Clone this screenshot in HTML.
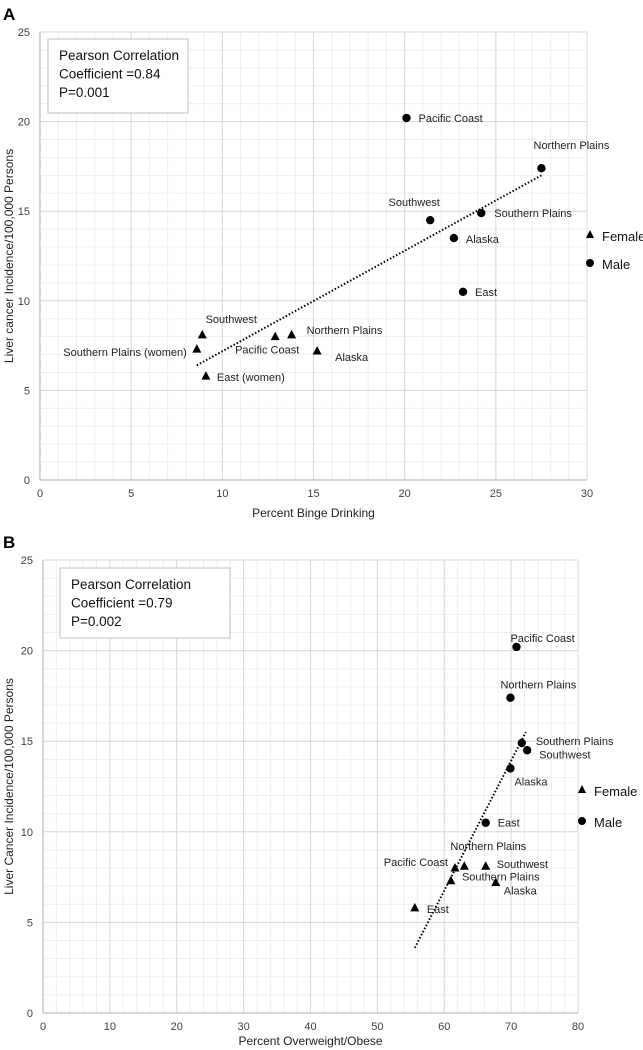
<!DOCTYPE html>
<html><head><meta charset="utf-8">
<style>
html,body{margin:0;padding:0;background:#fff;}
svg{display:block;font-family:"Liberation Sans",sans-serif;}
</style></head>
<body>
<svg id="fig" width="643" height="1050" viewBox="0 0 643 1050" xmlns="http://www.w3.org/2000/svg"></svg>
<script>
// ---------- Panel A data ----------
const aMaleNames = ["Pacific Coast","Northern Plains","Southwest","Southern Plains","Alaska","East"];
const aMaleX = [20.1, 27.5, 21.4, 24.2, 22.7, 23.2];
const aMaleY = [20.2, 17.4, 14.5, 14.9, 13.5, 10.5];
const aFemNames = ["Southwest","Southern Plains (women)","East (women)","Pacific Coast","Northern Plains","Alaska"];
const aFemX = [8.9, 8.6, 9.1, 12.9, 13.8, 15.2];
const aFemY = [8.1, 7.3, 5.8, 8.0, 8.1, 7.2];
const aTrendX = [8.6, 27.5];
const aTrendY = [6.4, 17.0];
const aXTicks = [0,5,10,15,20,25,30];
const aYTicks = [0,5,10,15,20,25];

// ---------- Panel B data ----------
const bMaleNames = ["Pacific Coast","Northern Plains","Southern Plains","Southwest","Alaska","East"];
const bMaleX = [70.8, 69.9, 71.6, 72.4, 69.9, 66.2];
const bMaleY = [20.2, 17.4, 14.9, 14.5, 13.5, 10.5];
const bFemNames = ["Pacific Coast","Northern Plains","Southwest","Southern Plains","Alaska","East"];
const bFemX = [61.6, 63.0, 66.2, 61.0, 67.7, 55.6];
const bFemY = [8.0, 8.1, 8.1, 7.3, 7.2, 5.8];
const bTrendX = [55.6, 72.2];
const bTrendY = [3.6, 15.5];
const bXTicks = [0,10,20,30,40,50,60,70,80];
const bYTicks = [0,5,10,15,20,25];

// label placement (pixel offsets, anchor) – presentation only
const aMaleLab = [[12,4,"start"],[30,-19,"middle"],[-16,-14,"middle"],[13,4,"start"],[12,5,"start"],[12,4,"start"]];
const aFemLab  = [[29,-12,"middle"],[-10,7,"end"],[11,5,"start"],[-8,17,"middle"],[15,-1,"start"],[18,10,"start"]];
const bMaleLab = [[-6,-5,"start"],[-10,-9,"start"],[14,2,"start"],[12,8,"start"],[4,17,"start"],[12,4,"start"]];
const bFemLab  = [[-7,-2,"end"],[24,-16,"middle"],[11,2,"start"],[11,0,"start"],[8,12,"start"],[12,5,"start"]];

const NS = "http://www.w3.org/2000/svg";
const svg = document.getElementById("fig");
function mk(tag, attrs, parent){
  const e = document.createElementNS(NS, tag);
  for (const k in attrs) e.setAttribute(k, attrs[k]);
  (parent||svg).appendChild(e);
  return e;
}

function panel(cfg){
  const g = mk("g", {});
  
  
  const sx = v => cfg.x0 + (v - cfg.xmin) / (cfg.xmax - cfg.xmin) * (cfg.x1 - cfg.x0);
  const sy = v => cfg.y0 - (v - cfg.ymin) / (cfg.ymax - cfg.ymin) * (cfg.y0 - cfg.y1);
  for (let v = cfg.xmin; v <= cfg.xmax + 1e-9; v += cfg.xminor) {
    const l = mk("line", {x1:sx(v), x2:sx(v), y1:cfg.y1, y2:cfg.y0, stroke:"#efefef", "stroke-width":1}, g);
    
    
  }
  for (let v = cfg.ymin; v <= cfg.ymax + 1e-9; v += 1) {
    const l = mk("line", {x1:cfg.x0, x2:cfg.x1, y1:sy(v), y2:sy(v), stroke:"#efefef", "stroke-width":1}, g);
    
    
  }
  cfg.xt.forEach(v => {
    const l = mk("line", {x1:sx(v), x2:sx(v), y1:cfg.y1, y2:cfg.y0, stroke:"#d9d9d9", "stroke-width":1}, g);
    
    
    const t = mk("text", {x:sx(v), y:cfg.y0 + 17, "font-size":11, fill:"#404040", "text-anchor":"middle"}, g);
    
    
    t.textContent = v;
  });
  cfg.yt.forEach(v => {
    const l = mk("line", {x1:cfg.x0, x2:cfg.x1, y1:sy(v), y2:sy(v), stroke:"#d9d9d9", "stroke-width":1}, g);
    
    
    const t = mk("text", {x:cfg.x0 - 10, y:sy(v) + 4, "font-size":11, fill:"#404040", "text-anchor":"end"}, g);
    
    
    t.textContent = v;
  });
  const ax = mk("line", {x1:cfg.x0, x2:cfg.x1, y1:cfg.y0, y2:cfg.y0, stroke:"#bfbfbf", "stroke-width":1.2}, g);
  
  
  const ay = mk("line", {x1:cfg.x0, x2:cfg.x0, y1:cfg.y1, y2:cfg.y0, stroke:"#bfbfbf", "stroke-width":1.2}, g);
  
  
  const xtT = mk("text", {x:(cfg.x0+cfg.x1)/2, y:cfg.y0 + cfg.xtOff, "font-size":12, fill:"#222", "text-anchor":"middle"}, g);
  
  
  xtT.textContent = cfg.xtitle;
  const ytT = mk("text", {x:0, y:0, "font-size":12, fill:"#222", "text-anchor":"middle", transform:`translate(13 ${(cfg.y0+cfg.y1)/2}) rotate(-90)`}, g);
  
  
  ytT.textContent = cfg.ytitle;
  const pl = mk("text", {x:3, y:cfg.y1 - 12, "font-size":17, "font-weight":"bold", fill:"#000"}, g);
  
  
  pl.textContent = cfg.letter;
  const bx = mk("rect", {x:cfg.box[0], y:cfg.box[1], width:cfg.box[2], height:cfg.box[3], fill:"#fff", stroke:"#bfbfbf", "stroke-width":1}, g);
  
  
  cfg.boxText.forEach((s, i) => {
    const t = mk("text", {x:cfg.box[0] + 11, y:cfg.box[1] + 21 + i*18.5, "font-size":13.5, fill:"#111"}, g);
    
    
    t.textContent = s;
  });
  const tr = mk("line", {x1:sx(cfg.tx[0]), y1:sy(cfg.ty[0]), x2:sx(cfg.tx[1]), y2:sy(cfg.ty[1]), stroke:"#000", "stroke-width":2, "stroke-dasharray":"1.5 2"}, g);
  
  
  cfg.mx.forEach((v, i) => {
    const px = sx(v), py = sy(cfg.my[i]);
    const c = mk("circle", {cx:px, cy:py, r:4.2, fill:"#000"}, g);
    
    
    const L = cfg.mLab[i];
    const t = mk("text", {x:px + L[0], y:py + L[1], "font-size":11, fill:"#222", "text-anchor":L[2]}, g);
    
    
    t.textContent = cfg.mNames[i];
  });
  cfg.fx.forEach((v, i) => {
    const px = sx(v), py = sy(cfg.fy[i]);
    const p = mk("polygon", {points:`${px},${py-5} ${px-4.5},${py+3.5} ${px+4.5},${py+3.5}`, fill:"#000"}, g);
    
    
    const L = cfg.fLab[i];
    const t = mk("text", {x:px + L[0], y:py + L[1], "font-size":11, fill:"#222", "text-anchor":L[2]}, g);
    
    
    t.textContent = cfg.fNames[i];
  });
  const lg = mk("g", {}, g);
  
  
  const lx = cfg.leg[0], ly1 = cfg.leg[1], ly2 = cfg.leg[2];
  const lt = mk("polygon", {points:`${lx},${ly1-5} ${lx-4},${ly1+3} ${lx+4},${ly1+3}`, fill:"#000"}, lg);
  
  
  const ltt = mk("text", {x:lx + 12, y:ly1 + 6, "font-size":13, fill:"#111"}, lg);
  
  
  ltt.textContent = "Female";
  const lc = mk("circle", {cx:lx, cy:ly2, r:4, fill:"#000"}, lg);
  
  
  const lct = mk("text", {x:lx + 12, y:ly2 + 6, "font-size":13, fill:"#111"}, lg);
  
  
  lct.textContent = "Male";
}

panel({id:"binge", letter:"A", x0:40, x1:587, y0:480, y1:32, xmin:0, xmax:30, ymin:0, ymax:25, xminor:1,
  xt:aXTicks, yt:aYTicks, xtitle:"Percent Binge Drinking", ytitle:"Liver cancer Incidence/100,000 Persons", xtOff:37,
  box:[48,39,140,74], boxText:["Pearson Correlation","Coefficient =0.84","P=0.001"],
  tx:aTrendX, ty:aTrendY, mx:aMaleX, my:aMaleY, mNames:aMaleNames, mLab:aMaleLab,
  fx:aFemX, fy:aFemY, fNames:aFemNames, fLab:aFemLab, leg:[590,235,263]});

panel({id:"obesity", letter:"B", x0:43, x1:578, y0:1013, y1:560, xmin:0, xmax:80, ymin:0, ymax:25, xminor:2,
  xt:bXTicks, yt:bYTicks, xtitle:"Percent Overweight/Obese", ytitle:"Liver Cancer Incidence/100,000 Persons", xtOff:32,
  box:[60,568,170,70], boxText:["Pearson Correlation","Coefficient =0.79","P=0.002"],
  tx:bTrendX, ty:bTrendY, mx:bMaleX, my:bMaleY, mNames:bMaleNames, mLab:bMaleLab,
  fx:bFemX, fy:bFemY, fNames:bFemNames, fLab:bFemLab, leg:[582,790,821]});
</script>
</body></html>
